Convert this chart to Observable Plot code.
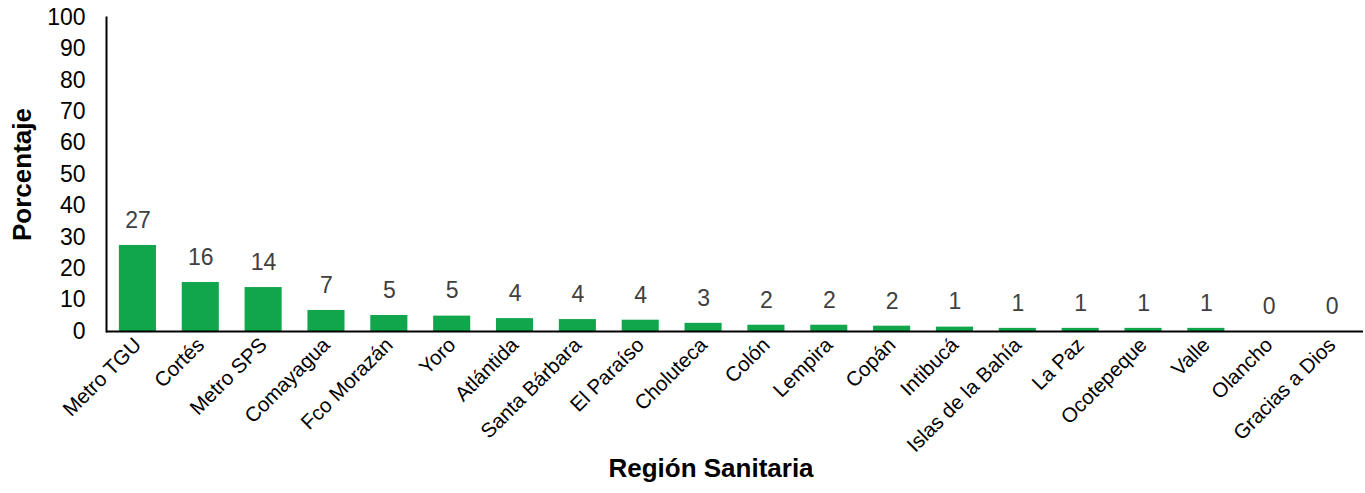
<!DOCTYPE html>
<html>
<head>
<meta charset="utf-8">
<script src="https://cdn.jsdelivr.net/npm/d3@7"></script>
<script src="https://cdn.jsdelivr.net/npm/@observablehq/plot@0.6"></script>
<style>
  html, body { margin: 0; padding: 0; background: #fff; }
  #chart svg { display: block; }
</style>
</head>
<body>
<div id="chart"></div>
<script>
const regions = ["Metro TGU","Cortés","Metro SPS","Comayagua","Fco Morazán","Yoro","Atlántida","Santa Bárbara","El Paraíso","Choluteca","Colón","Lempira","Copán","Intibucá","Islas de la Bahía","La Paz","Ocotepeque","Valle","Olancho","Gracias a Dios"];
const percents = [27.4, 15.6, 14.0, 6.7, 5.1, 4.9, 4.1, 3.8, 3.6, 2.6, 2.0, 2.0, 1.7, 1.4, 1.0, 1.0, 1.0, 1.0, 0, 0];
const yTicks = [0,10,20,30,40,50,60,70,80,90,100];

const data = regions.map((r, i) => ({region: r, value: percents[i]}));
const font = "'Liberation Sans', Arial, sans-serif";

const chart = Plot.plot({
  width: 1365,
  height: 493,
  marginLeft: 106,
  marginRight: 2,
  marginTop: 17,
  marginBottom: 162,
  style: {fontFamily: font, background: "#fff", color: "#000"},
  x: {domain: regions, paddingInner: 0.41, paddingOuter: 0.205, round: false, label: null},
  y: {domain: [0, 100], label: null},
  marks: [
    Plot.axisY({ticks: yTicks, tickSize: 0, tickPadding: 21, fontSize: 23, label: null, fill: "#000"}),
    Plot.axisX({tickSize: 0, tickRotate: -45, tickPadding: 10, fontSize: 20.5, label: null, fill: "#000"}),
    Plot.barY(data, {x: "region", y: "value", fill: "#11a64b"}),
    Plot.text(data, {x: "region", y: "value", text: d => d3.format(".0f")(d.value), dy: -25, fontSize: 23, fill: "#404040"}),
    Plot.ruleY([0], {stroke: "#000", strokeWidth: 2}),
    Plot.frame({anchor: "left", stroke: "#000", strokeWidth: 2}),
    Plot.text(["Porcentaje"], {frameAnchor: "left", dx: -84, rotate: -90, textAnchor: "middle", fontSize: 26, fontWeight: "bold", fill: "#000"}),
    Plot.text(["Región Sanitaria"], {frameAnchor: "bottom", dx: -24, dy: 145, fontSize: 26, fontWeight: "bold", fill: "#000"})
  ]
});
document.getElementById("chart").appendChild(chart);
</script>
</body>
</html>
